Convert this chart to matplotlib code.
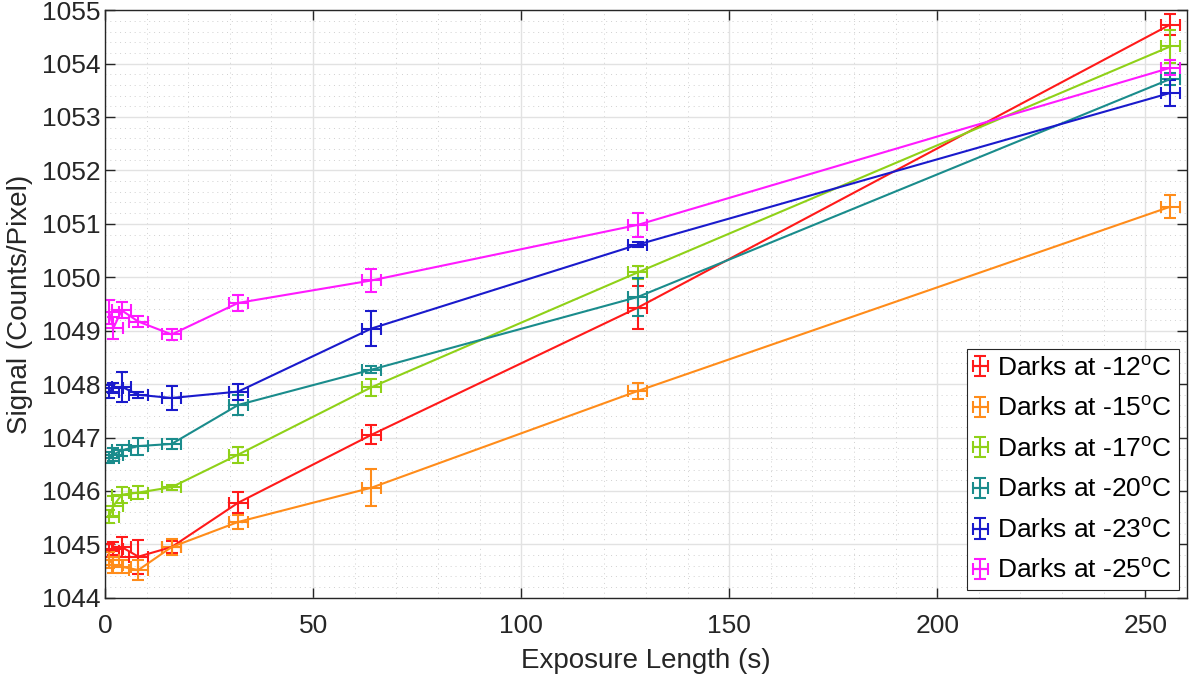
import matplotlib
matplotlib.use("Agg")
import matplotlib.pyplot as plt
from matplotlib.container import ErrorbarContainer
from matplotlib.legend_handler import HandlerErrorbar
from matplotlib.ticker import MultipleLocator

plt.rcParams["font.family"] = ["Liberation Sans", "DejaVu Sans"]
plt.rcParams["mathtext.fontset"] = "custom"
plt.rcParams["mathtext.rm"] = "Liberation Sans"

# Exposure lengths (s) shared by all temperature runs
exposure = [1, 2, 4, 8, 16, 32, 64, 128, 256]
exposure_err = [2.3] * len(exposure)

temps = [-12, -15, -17, -20, -23, -25]
colors = ["#ff1a1a", "#ff8c1a", "#8fd118", "#1a8c8c", "#1a1acc", "#ff1aff"]

signal_m12 = [1044.88, 1044.92, 1044.95, 1044.77, 1044.95, 1045.78, 1047.05, 1049.43, 1054.73]
err_m12 = [0.12, 0.12, 0.18, 0.32, 0.12, 0.20, 0.18, 0.40, 0.20]

signal_m15 = [1044.70, 1044.62, 1044.58, 1044.52, 1044.95, 1045.42, 1046.06, 1047.87, 1051.32]
err_m15 = [0.15, 0.15, 0.12, 0.18, 0.15, 0.13, 0.35, 0.15, 0.22]

signal_m17 = [1045.52, 1045.72, 1045.93, 1045.97, 1046.07, 1046.68, 1047.94, 1050.09, 1054.32]
err_m17 = [0.12, 0.18, 0.15, 0.12, 0.05, 0.15, 0.16, 0.13, 0.30]

signal_m20 = [1046.62, 1046.68, 1046.76, 1046.84, 1046.88, 1047.61, 1048.27, 1049.63, 1053.71]
err_m20 = [0.10, 0.12, 0.10, 0.16, 0.10, 0.18, 0.06, 0.36, 0.11]

signal_m23 = [1047.86, 1047.93, 1047.95, 1047.80, 1047.74, 1047.86, 1049.04, 1050.61, 1053.45]
err_m23 = [0.12, 0.10, 0.28, 0.06, 0.23, 0.15, 0.32, 0.05, 0.25]

signal_m25 = [1049.35, 1049.05, 1049.38, 1049.17, 1048.93, 1049.52, 1049.94, 1050.98, 1053.92]
err_m25 = [0.22, 0.20, 0.15, 0.10, 0.10, 0.15, 0.21, 0.22, 0.14]

signals = [signal_m12, signal_m15, signal_m17, signal_m20, signal_m23, signal_m25]
errors = [err_m12, err_m15, err_m17, err_m20, err_m23, err_m25]

fig = plt.figure(figsize=(11.94, 6.77), dpi=100)
ax = fig.add_axes([0.088, 0.117, 0.906, 0.868])

for temp, color, sig, err in zip(temps, colors, signals, errors):
    ax.errorbar(
        exposure, sig, yerr=err, xerr=exposure_err,
        color=color, lw=1.5, elinewidth=1.5, capsize=4, capthick=1.5,
        label=f"Darks at {temp}$^{{\\mathrm{{o}}}}$C",
    )

ax.set_xlim(0, 260)
ax.set_ylim(1044, 1055)
ax.xaxis.set_major_locator(MultipleLocator(50))
ax.xaxis.set_minor_locator(MultipleLocator(10))
ax.yaxis.set_major_locator(MultipleLocator(1))
ax.yaxis.set_minor_locator(MultipleLocator(0.2))
ax.grid(which="major", color="#e2e2e2", lw=1.0)
ax.grid(which="minor", color="#d0d0d0", lw=0.7, ls=(0, (1, 4)))
ax.set_axisbelow(True)

ax.tick_params(which="both", direction="in", top=True, right=True,
               labelsize=19, colors="#262626", length=0)
ax.tick_params(which="major", length=7, width=1)
ax.tick_params(axis="x", pad=12)
for s in ax.spines.values():
    s.set_color("#262626")
    s.set_linewidth(1.0)

ax.set_xlabel("Exposure Length (s)", fontsize=20, color="#262626", labelpad=7)
ax.set_ylabel("Signal (Counts/Pixel)", fontsize=20, color="#262626", labelpad=6)

# small cross-shaped legend handles
leg = ax.legend(loc="lower right", fontsize=19, frameon=True, fancybox=False,
                edgecolor="#262626", framealpha=1, handlelength=0.5,
                handletextpad=0.4, borderaxespad=0.3, labelspacing=0.6,
                borderpad=0.25,
                handler_map={ErrorbarContainer: HandlerErrorbar(xerr_size=0.28, yerr_size=0.38)})
leg.get_frame().set_linewidth(0.8)

fig.savefig("out.png", dpi=100)
